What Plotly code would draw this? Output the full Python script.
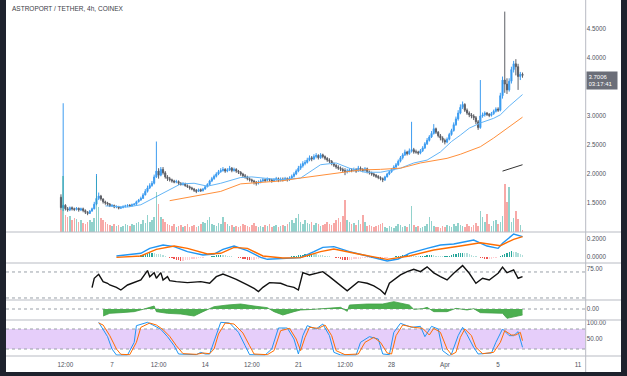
import plotly.graph_objects as go
import pandas as pd

W, H = 627, 376

# ---------------- data ----------------
start_bar = "2022-03-03 04:00"
first_open = 1.60
closes = [
    1.42, 1.46, 1.40, 1.38, 1.42, 1.40, 1.39, 1.41, 1.38, 1.40,
    1.37, 1.34, 1.32, 1.36, 1.40, 1.48, 1.58, 1.62, 1.57, 1.52,
    1.50, 1.48, 1.45, 1.46, 1.43, 1.44, 1.41, 1.42, 1.44, 1.45,
    1.46, 1.45, 1.47, 1.48, 1.52, 1.55, 1.58, 1.64, 1.70, 1.76,
    1.80, 1.84, 1.95, 2.05, 1.98, 2.08, 2.02, 1.95, 1.92, 1.90,
    1.88, 1.86, 1.87, 1.84, 1.82, 1.83, 1.80, 1.78, 1.76, 1.74,
    1.72, 1.70, 1.73, 1.71, 1.74, 1.78, 1.82, 1.88, 1.92, 1.96,
    2.00, 2.04, 2.06, 2.08, 2.05, 2.07, 2.10, 2.06, 2.08, 2.05,
    2.03, 2.00, 1.97, 1.95, 1.92, 1.90, 1.88, 1.86, 1.84, 1.86,
    1.88, 1.90, 1.89, 1.91, 1.90, 1.88, 1.90, 1.92, 1.89, 1.91,
    1.90, 1.92, 1.90, 1.93, 1.96, 2.00, 2.05, 2.10, 2.14, 2.18,
    2.20, 2.24, 2.28, 2.26, 2.30, 2.32, 2.28, 2.33, 2.30, 2.27,
    2.24, 2.22, 2.18, 2.15, 2.12, 2.10, 2.08, 2.06, 2.04, 2.05,
    2.07, 2.06, 2.08, 2.05, 2.10, 2.08, 2.06, 2.09, 2.04, 2.02,
    2.00, 1.98, 1.96, 1.94, 1.92, 1.90, 1.95, 2.00, 2.04, 2.08,
    2.12, 2.16, 2.22, 2.28, 2.33, 2.38, 2.35, 2.40, 2.42, 2.38,
    2.38, 2.36, 2.40, 2.45, 2.52, 2.58, 2.64, 2.70, 2.78, 2.72,
    2.66, 2.62, 2.58, 2.55, 2.60, 2.68, 2.75, 2.85, 2.95, 3.05,
    3.15, 3.20, 3.10, 3.05, 3.02, 3.00, 2.97, 2.90, 2.80, 3.00,
    3.02, 3.05, 3.03, 3.01, 3.04, 3.08, 3.12, 3.10, 3.35, 3.62,
    3.55, 3.45, 3.60, 3.80, 3.90, 3.85, 3.68, 3.72, 3.7006,
]
highs = [
    1.65, 3.22, 1.48, 1.43, 1.44, 1.44, 1.42, 1.43, 1.42, 1.42,
    1.42, 1.39, 1.36, 1.38, 1.42, 1.52, 2.00, 1.68, 1.64, 1.58,
    1.54, 1.52, 1.50, 1.48, 1.47, 1.46, 1.45, 1.44, 1.46, 1.47,
    1.48, 1.48, 1.49, 1.50, 1.54, 1.57, 1.61, 1.67, 1.74, 1.80,
    1.84, 1.88, 1.99, 2.56, 2.10, 2.12, 2.12, 2.05, 1.98, 1.95,
    1.92, 1.90, 1.90, 1.89, 1.86, 1.86, 1.85, 1.82, 1.80, 1.78,
    1.76, 1.74, 1.75, 1.75, 1.76, 1.80, 1.84, 1.90, 1.95, 1.99,
    2.03, 2.07, 2.10, 2.12, 2.10, 2.10, 2.14, 2.12, 2.11, 2.10,
    2.07, 2.05, 2.02, 2.00, 1.97, 1.94, 1.92, 1.90, 1.88, 1.89,
    1.91, 1.93, 1.92, 1.94, 1.93, 1.92, 1.93, 1.95, 1.94, 1.94,
    1.94, 1.95, 1.94, 1.96, 1.99, 2.03, 2.08, 2.14, 2.18, 2.22,
    2.24, 2.28, 2.32, 2.31, 2.34, 2.36, 2.34, 2.36, 2.35, 2.32,
    2.29, 2.27, 2.24, 2.20, 2.17, 2.15, 2.13, 2.11, 2.10, 2.09,
    2.10, 2.10, 2.11, 2.10, 2.14, 2.13, 2.10, 2.12, 2.11, 2.06,
    2.04, 2.02, 2.00, 1.98, 1.96, 1.94, 1.97, 2.02, 2.06, 2.10,
    2.15, 2.19, 2.25, 2.31, 2.36, 2.42, 2.40, 2.44, 2.90, 2.45,
    2.42, 2.40, 2.43, 2.48, 2.55, 2.62, 2.67, 2.74, 2.86, 2.80,
    2.74, 2.69, 2.65, 2.61, 2.63, 2.71, 2.78, 2.89, 2.99, 3.10,
    3.20, 3.25, 3.22, 3.13, 3.08, 3.05, 3.03, 3.00, 2.93, 3.62,
    3.06, 3.08, 3.07, 3.05, 3.07, 3.11, 3.15, 3.15, 3.40, 3.68,
    4.80, 3.65, 3.65, 3.85, 3.95, 3.98, 3.90, 3.76, 3.75,
]
lows = [
    1.38, 1.36, 1.37, 1.35, 1.36, 1.37, 1.36, 1.37, 1.35, 1.36,
    1.34, 1.31, 1.29, 1.31, 1.35, 1.39, 1.46, 1.55, 1.54, 1.49,
    1.47, 1.45, 1.43, 1.43, 1.41, 1.41, 1.39, 1.40, 1.41, 1.42,
    1.43, 1.43, 1.44, 1.46, 1.47, 1.51, 1.54, 1.57, 1.63, 1.68,
    1.74, 1.78, 1.82, 1.93, 1.92, 1.96, 1.99, 1.92, 1.88, 1.87,
    1.85, 1.84, 1.84, 1.81, 1.80, 1.80, 1.78, 1.76, 1.73, 1.72,
    1.69, 1.67, 1.69, 1.69, 1.70, 1.73, 1.77, 1.80, 1.86, 1.90,
    1.94, 1.98, 2.02, 2.04, 2.02, 2.03, 2.05, 2.03, 2.04, 2.02,
    2.00, 1.97, 1.94, 1.92, 1.89, 1.87, 1.85, 1.82, 1.80, 1.82,
    1.84, 1.86, 1.86, 1.87, 1.87, 1.85, 1.86, 1.88, 1.86, 1.87,
    1.87, 1.88, 1.87, 1.88, 1.91, 1.94, 1.98, 2.03, 2.07, 2.11,
    2.15, 2.18, 2.22, 2.22, 2.24, 2.27, 2.25, 2.26, 2.27, 2.24,
    2.21, 2.19, 2.15, 2.12, 2.09, 2.07, 2.05, 2.03, 1.98, 2.01,
    2.03, 2.03, 2.04, 2.02, 2.04, 2.05, 2.03, 2.04, 2.01, 1.99,
    1.97, 1.95, 1.93, 1.91, 1.89, 1.86, 1.88, 1.94, 1.98, 2.02,
    2.06, 2.10, 2.14, 2.20, 2.25, 2.31, 2.32, 2.33, 2.37, 2.35,
    2.35, 2.33, 2.34, 2.38, 2.43, 2.50, 2.56, 2.62, 2.68, 2.69,
    2.63, 2.58, 2.54, 2.51, 2.53, 2.58, 2.66, 2.73, 2.83, 2.92,
    3.03, 3.12, 3.07, 3.02, 2.98, 2.96, 2.93, 2.86, 2.76, 2.78,
    2.97, 2.99, 3.00, 2.98, 2.99, 3.02, 3.06, 3.07, 3.08, 3.30,
    3.40, 3.38, 3.42, 3.56, 3.75, 3.70, 3.45, 3.62, 3.66,
]
volumes = [
    22, 56, 17, 15, 16, 12, 14, 13, 10, 12,
    9, 8, 10, 12, 10, 14, 56, 25, 14, 12,
    10, 8, 7, 6, 8, 6, 7, 5, 6, 8,
    7, 6, 8, 7, 9, 10, 8, 12, 9, 17,
    10, 12, 15, 40, 28, 15, 13, 10, 8, 7,
    6, 8, 5, 6, 7, 5, 6, 8, 5, 6,
    7, 5, 6, 8, 10, 9, 12, 15, 8, 7,
    6, 9, 8, 15, 10, 8, 6, 7, 5, 6,
    5, 6, 8, 7, 6, 5, 7, 9, 6, 5,
    6, 5, 7, 6, 8, 5, 6, 7, 5, 6,
    7, 6, 8, 10, 12, 9, 14, 18, 10, 8,
    12, 9, 8, 10, 7, 9, 8, 6, 7, 8,
    10, 8, 7, 9, 12, 14, 10, 16, 32, 12,
    10, 8, 9, 7, 12, 8, 17, 10, 6, 7,
    6, 5, 6, 7, 8, 9, 5, 4, 6, 5,
    4, 6, 8, 7, 5, 6, 5, 8, 26, 7,
    5, 6, 4, 5, 6, 8, 15, 11, 6, 5,
    5, 4, 6, 5, 7, 6, 5, 8, 6, 9,
    7, 6, 5, 8, 6, 5, 7, 9, 6, 21,
    15, 10, 18, 8, 6, 11, 12, 8, 10, 16,
    48, 30, 45, 10, 14, 21, 13, 7, 2,
]

# moving averages (bar index, value)
ema20_idx = [20, 30, 36, 42, 48, 54, 60, 66, 72, 78, 81, 86, 99, 108, 117, 124, 130, 137, 144, 148,
             153, 159, 165, 171, 176, 180, 184, 189, 195, 198, 202, 208]
ema20_val = [1.45, 1.43, 1.47, 1.59, 1.72, 1.83, 1.84, 1.79, 1.84, 1.91, 1.94, 1.95, 1.90, 1.93, 2.16, 2.19,
             2.10, 2.03, 2.03, 2.06, 2.10, 2.19, 2.24, 2.38, 2.56, 2.67, 2.79, 2.88, 2.96, 3.02, 3.17, 3.37]
ema50_idx = [49, 58, 66, 72, 81, 90, 99, 108, 117, 126, 135, 144, 153, 162, 174, 180, 189, 195, 201, 208]
ema50_val = [1.54, 1.60, 1.66, 1.70, 1.83, 1.86, 1.88, 1.93, 1.98, 2.03, 2.07, 2.08, 2.10, 2.19, 2.27,
             2.34, 2.47, 2.62, 2.79, 2.98]
ema200_idx = [199, 208]
ema200_val = [2.05, 2.16]

# MACD
macd_idx = [25, 36, 40, 46, 51, 57, 64, 69, 73, 78, 84, 90, 93, 100, 108, 114, 118, 123, 130, 138,
            147, 152, 157, 165, 171, 177, 186, 192, 197, 199, 204, 208]
macd_val = [0.011, 0.041, 0.096, 0.133, 0.115, 0.059, 0.022, 0.033, 0.085, 0.122, 0.070, -0.004, -0.026,
            -0.015, -0.007, 0.059, 0.107, 0.115, 0.059, 0.011, -0.044, -0.022, 0.040, 0.096, 0.133, 0.144,
            0.189, 0.122, 0.096, 0.152, 0.256, 0.226]
signal_idx = [25, 36, 43, 51, 57, 66, 72, 78, 84, 91, 100, 108, 117, 123, 134, 147, 157, 168, 180, 189,
              198, 204, 208]
signal_val = [-0.004, 0.011, 0.085, 0.122, 0.096, 0.033, 0.041, 0.107, 0.096, 0.011, -0.011, -0.007, 0.059,
              0.089, 0.033, -0.026, 0.011, 0.078, 0.122, 0.159, 0.126, 0.196, 0.226]
hist_start = 33
hist_val = [
    0.005, 0.01, 0.015, 0.02, 0.025, 0.03, 0.035,
    0.04, 0.042, 0.04, 0.038, 0.035, 0.03, 0.02, 0.01,
    -0.005, -0.01, -0.015, -0.02, -0.028, -0.035, -0.04, -0.04, -0.038, -0.035, -0.03, -0.025,
    -0.02, -0.018, -0.015, -0.012, -0.008, -0.004, 0.0, 0.005, 0.01,
    0.015, 0.018, 0.02, 0.022, 0.02, 0.018, 0.015, 0.01, 0.006, 0.0, -0.005, -0.01,
    -0.015, -0.02, -0.025, -0.03, -0.033, -0.033, -0.03, -0.025, -0.02, -0.015, -0.01, -0.008, -0.005,
    -0.004, -0.003, -0.002, 0.0, 0.002, 0.0, -0.002, -0.001, 0.002, 0.004, 0.006, 0.01, 0.014, 0.018,
    0.022, 0.026, 0.03, 0.032, 0.033, 0.033, 0.03, 0.028, 0.025, 0.022, 0.018, 0.014, 0.01, 0.006,
    0.002, -0.004, -0.01, -0.016,
    -0.022, -0.028, -0.032, -0.033, -0.033, -0.03, -0.027, -0.024, -0.02, -0.017, -0.015, -0.013,
    -0.012, -0.011, -0.012,
    -0.014, -0.016, -0.017, -0.018, -0.016, -0.012, -0.008, -0.004, 0.0, 0.004,
    0.008, 0.012, 0.015, 0.018, 0.02, 0.02, 0.019, 0.018, 0.016, 0.014,
    0.012, 0.012, 0.014, 0.016, 0.018, 0.02, 0.02, 0.018, 0.015, 0.012, 0.01, 0.008, 0.008, 0.01,
    0.014, 0.02, 0.028, 0.035, 0.04,
    0.045, 0.048, 0.046, 0.04, 0.032, 0.024, 0.016, 0.008, 0.0, -0.008,
    -0.016, -0.022, -0.026, -0.026, -0.022, -0.016, -0.01, -0.004, 0.006, 0.02,
    0.035, 0.048, 0.058, 0.062, 0.06, 0.05, 0.04, 0.03, 0.022,
]

# RSI
rsi_idx = [14, 15, 17, 19, 21, 22, 25, 27, 30, 33, 36, 39, 40, 42, 43, 45, 46, 48, 49, 52, 57, 63, 67, 70,
           73, 76, 79, 84, 87, 89, 91, 94, 99, 102, 105, 107, 108, 109, 112, 115, 118, 121, 124, 129, 134,
           138, 141, 144, 146, 148, 153, 156, 159, 162, 165, 168, 171, 174, 177, 181, 184, 187, 190, 193,
           197, 199, 201, 204, 206, 208]
rsi_val = [45.9, 60.3, 66.4, 55.1, 52.6, 50.0, 46.4, 42.3, 50.0, 53.6, 57.7, 72.1, 62.8, 69.0, 60.3, 69.0,
           57.7, 62.8, 56.7, 55.1, 53.6, 55.1, 52.6, 62.8, 66.9, 62.8, 58.7, 50.0, 44.9, 39.8, 46.4, 53.6,
           52.6, 48.5, 46.4, 42.3, 57.7, 69.0, 65.4, 68.0, 70.5, 62.8, 55.1, 41.0, 55.1, 52.6, 48.5, 42.3,
           35.6, 52.6, 65.4, 70.5, 74.1, 70.5, 77.9, 68.7, 62.8, 57.7, 68.0, 79.8, 68.0, 52.6, 60.3, 57.7,
           68.0, 77.4, 69.0, 73.1, 60.3, 62.8]

# money flow (green area)
mf_idx = [19, 22, 27, 33, 37, 42, 43, 48, 54, 60, 64, 69, 75, 81, 87, 93, 96, 100, 105, 108, 114, 120,
          126, 129, 130, 138, 145, 150, 157, 159, 163, 165, 168, 174, 178, 183, 186, 189, 195, 199, 201,
          205, 208]
mf_val = [-0.21, -0.13, -0.11, -0.08, -0.01, 0.09, -0.08, -0.13, -0.15, -0.21, -0.08, 0.07, 0.12, 0.15,
          0.09, 0.04, -0.08, -0.18, -0.08, -0.03, -0.01, 0.03, 0.05, -0.07, 0.12, 0.15, 0.15, 0.22, 0.12,
          -0.01, 0.01, 0.05, -0.08, -0.08, 0.02, -0.03, 0.01, -0.11, -0.11, -0.13, -0.28, -0.21, -0.18]

# Stochastic RSI
k_idx = [17, 21, 23, 25, 30, 33, 34, 39, 42, 45, 48, 51, 53, 61, 63, 65, 67, 70, 72, 76, 80, 83, 85, 92,
         95, 98, 102, 105, 107, 109, 111, 115, 118, 121, 123, 126, 133, 135, 139, 143, 145, 148, 150, 153,
         158, 162, 164, 167, 170, 172, 175, 176, 179, 181, 183, 186, 188, 194, 196, 199, 202, 204, 206, 208]
k_val = [100, 57, 20, 2, 2, 40, 90, 100, 90, 79, 57, 30, 5, 3, 10, 5, 5, 60, 100, 98, 70, 30, 3, 2,
         20, 83, 83, 50, 5, 60, 90, 80, 95, 60, 10, 2, 2, 40, 57, 50, 5, 3, 70, 97,
         85, 88, 57, 88, 80, 15, 0, 5, 60, 85, 63, 25, 5, 8, 40, 80, 60, 60, 72, 25]
d_idx = [17, 19, 22, 25, 27, 31, 34, 36, 40, 43, 46, 49, 52, 55, 61, 64, 67, 69, 71, 74, 78, 82, 85, 87,
         93, 96, 99, 103, 106, 108, 110, 112, 116, 119, 122, 124, 128, 134, 137, 141, 144, 147, 149, 151,
         154, 159, 163, 166, 168, 171, 174, 176, 178, 180, 182, 185, 187, 190, 195, 198, 200, 203, 205, 207, 208]
d_val = [98, 92, 60, 20, 4, 3, 40, 85, 98, 92, 78, 58, 30, 6, 4, 8, 6, 20, 65, 98, 95, 68, 30, 5,
         3, 15, 75, 82, 50, 15, 55, 85, 82, 92, 60, 15, 3, 5, 40, 55, 40, 8, 5, 60,
         92, 85, 82, 62, 82, 70, 20, 3, 10, 55, 80, 60, 25, 6, 10, 40, 75, 62, 62, 70, 45]

x_tick_vals = ["2022-03-03 12:00", "2022-03-07", "2022-03-10 12:00", "2022-03-14", "2022-03-17 12:00",
               "2022-03-21", "2022-03-24 12:00", "2022-03-28", "2022-04-01", "2022-04-05", "2022-04-11"]
x_tick_text = ["12:00", "7", "12:00", "14", "12:00", "21", "12:00", "28", "Apr", "5", "11"]

title_text = "ASTROPORT / TETHER, 4h, COINEX"
last_price_text = "3.7006"
countdown_text = "03:17:41"

# ---------------- layout helpers ----------------
def pyp(ypx):
    return 1 - ypx / H

def pxp(xpx):
    return xpx / W

dates = pd.date_range(start_bar, periods=len(closes), freq="4h")
opens = [first_open] + closes[:-1]

def sel(idx):
    return [dates[i] for i in idx]

ref = pd.Timestamp("2022-03-07")
ppd = 13.314
x_left = ref + pd.Timedelta(days=(6 - 112) / ppd)
x_right = ref + pd.Timedelta(days=(585.7 - 112) / ppd)

X0, X1 = 6, 585.7
RIGHT = 621
FONT = "Liberation Sans, Arial, sans-serif"
TXT = "#50535e"
SEP = "#b8bbc3"
DASH = "#9aa0a8"

fig = go.Figure()

# volume
up = [c >= o for o, c in zip(opens, closes)]
vol_colors = ["rgba(38,166,154,0.5)" if u else "rgba(239,83,80,0.5)" for u in up]
fig.add_trace(go.Bar(x=dates, y=volumes, marker=dict(color=vol_colors, line=dict(width=0)),
                     width=4 * 3600 * 1000 * 0.7, yaxis="y6", xaxis="x", showlegend=False))

# candles
fig.add_trace(go.Candlestick(
    x=dates, open=opens, high=highs, low=lows, close=closes,
    increasing=dict(line=dict(color="#3d9cf0", width=1), fillcolor="#2196f3"),
    decreasing=dict(line=dict(color="#5d5f66", width=1), fillcolor="#4a4c52"),
    whiskerwidth=0, yaxis="y", xaxis="x", showlegend=False))

fig.add_trace(go.Scatter(x=sel(ema20_idx), y=ema20_val, mode="lines",
                         line=dict(color="#64b5f6", width=1), yaxis="y", showlegend=False))
fig.add_trace(go.Scatter(x=sel(ema50_idx), y=ema50_val, mode="lines",
                         line=dict(color="#ff8f3a", width=1), yaxis="y", showlegend=False))
fig.add_trace(go.Scatter(x=sel(ema200_idx), y=ema200_val, mode="lines",
                         line=dict(color="#333333", width=1), yaxis="y", showlegend=False))

# MACD
hist_dates = [dates[hist_start + k] for k in range(len(hist_val))]
hist_colors = []
for k, v in enumerate(hist_val):
    prev = hist_val[k - 1] if k > 0 else 0
    if v >= 0:
        hist_colors.append("#26a69a" if v >= prev else "#b2dfdb")
    else:
        hist_colors.append("#ef5350" if v < prev else "#ffcdd2")
fig.add_trace(go.Bar(x=hist_dates, y=hist_val, marker=dict(color=hist_colors, line=dict(width=0)),
                     width=4 * 3600 * 1000 * 0.6, yaxis="y2", showlegend=False))
fig.add_trace(go.Scatter(x=sel(macd_idx), y=macd_val, mode="lines",
                         line=dict(color="#2196f3", width=1.4), yaxis="y2", showlegend=False))
fig.add_trace(go.Scatter(x=sel(signal_idx), y=signal_val, mode="lines",
                         line=dict(color="#ff6d00", width=1.4), yaxis="y2", showlegend=False))

# RSI
fig.add_trace(go.Scatter(x=sel(rsi_idx), y=rsi_val, mode="lines",
                         line=dict(color="#111111", width=1.4), yaxis="y3", showlegend=False))

# money flow area
fig.add_trace(go.Scatter(x=sel(mf_idx), y=mf_val, mode="lines", fill="tozeroy",
                         fillcolor="#4caf50", line=dict(color="#43a047", width=0.8),
                         yaxis="y4", showlegend=False))

# Stoch RSI
fig.add_trace(go.Scatter(x=sel(k_idx), y=k_val, mode="lines",
                         line=dict(color="#2196f3", width=1), yaxis="y5", showlegend=False))
fig.add_trace(go.Scatter(x=sel(d_idx), y=d_val, mode="lines",
                         line=dict(color="#ff6d00", width=1), yaxis="y5", showlegend=False))

tickfont = dict(family=FONT, size=6.3, color=TXT)
dom_main = [pyp(232), 1]
dom_macd = [pyp(263), pyp(232)]
dom_rsi = [pyp(300), pyp(263)]
dom_mf = [pyp(320), pyp(300)]
dom_st = [pyp(356), pyp(320)]

def yax(domain, rng, tv, tt):
    return dict(domain=domain, range=rng, side="right", anchor="x", tickvals=tv, ticktext=tt,
                showgrid=False, zeroline=False, showline=False, ticks="", tickfont=tickfont,
                fixedrange=True)

price_ticks = [1.5, 2.0, 2.5, 3.0, 3.5, 4.0, 4.5, 5.0]
fig.update_layout(
    width=W, height=H, margin=dict(l=0, r=0, t=0, b=0),
    paper_bgcolor="#1e222d", plot_bgcolor="white", bargap=0,
    xaxis=dict(domain=[pxp(X0), pxp(X1)], range=[x_left, x_right], anchor="y5", type="date",
               tickvals=x_tick_vals, ticktext=x_tick_text, showgrid=False, zeroline=False,
               showline=False, ticks="", tickfont=tickfont, ticklabelstandoff=4,
               rangeslider=dict(visible=False)),
    yaxis=yax(dom_main, [1.0, 5.0], price_ticks, ["%.4f" % v for v in price_ticks]),
    yaxis2=yax(dom_macd, [-0.067, 0.278], [0.0, 0.2], ["0.0000", "0.2000"]),
    yaxis3=yax(dom_rsi, [26.9, 83.8], [75], ["75.00"]),
    yaxis4=yax(dom_mf, [-0.33, 0.27], [0], ["0.00"]),
    yaxis5=yax(dom_st, [-1, 107], [50, 100], ["50.00", "100.00"]),
    yaxis6=dict(domain=dom_main, range=[0, 232], overlaying="y", visible=False, anchor="x",
                fixedrange=True),
)

shapes = []
# white chart surface
shapes.append(dict(type="rect", xref="paper", yref="paper", x0=pxp(X0), x1=pxp(RIGHT),
                   y0=pyp(372), y1=1, fillcolor="white", line=dict(width=0), layer="below"))
# stoch band
shapes.append(dict(type="rect", xref="x", yref="y5", x0=x_left, x1=x_right, y0=20, y1=80,
                   fillcolor="#e6cefa", line=dict(width=0), layer="below"))
for yr, v in [("y3", 70), ("y3", 30), ("y4", 0), ("y5", 80), ("y5", 20)]:
    shapes.append(dict(type="line", xref="x", yref=yr, x0=x_left, x1=x_right, y0=v, y1=v,
                       line=dict(color=DASH, width=1, dash="3px,3px"), layer="below"))
for ysep in [232, 263, 300, 320, 356]:
    shapes.append(dict(type="line", xref="paper", yref="paper", x0=pxp(X0), x1=pxp(RIGHT),
                       y0=pyp(ysep), y1=pyp(ysep), line=dict(color=SEP, width=1)))
shapes.append(dict(type="line", xref="paper", yref="paper", x0=pxp(X1), x1=pxp(X1),
                   y0=pyp(372), y1=1, line=dict(color=SEP, width=1)))
fig.update_layout(shapes=shapes)

fig.add_annotation(text=title_text, xref="paper", yref="paper", x=pxp(10), y=pyp(8),
                   xanchor="left", yanchor="middle", showarrow=False,
                   font=dict(family=FONT, size=6.5, color="#3a3d45"))
# last price tag (drawn above the axis labels, as in the reference)
fig.add_annotation(text=last_price_text + "<br>" + countdown_text, xref="paper", yref="paper",
                   x=pxp(X1 + 0.5), y=pyp(70.5), xanchor="left", yanchor="top", showarrow=False,
                   align="left", bgcolor="#6b6e78", borderpad=1.5, width=27,
                   font=dict(family=FONT, size=6.0, color="white"))

fig.write_html("out.html", config={"displayModeBar": False, "staticPlot": True})

# remove the browser's default page margin so the figure sits at the window origin
with open("out.html", "r", encoding="utf-8") as f:
    page = f.read()
page = page.replace("<head>", "<head><style>html,body{margin:0;padding:0;overflow:hidden;}</style>", 1)
with open("out.html", "w", encoding="utf-8") as f:
    f.write(page)
